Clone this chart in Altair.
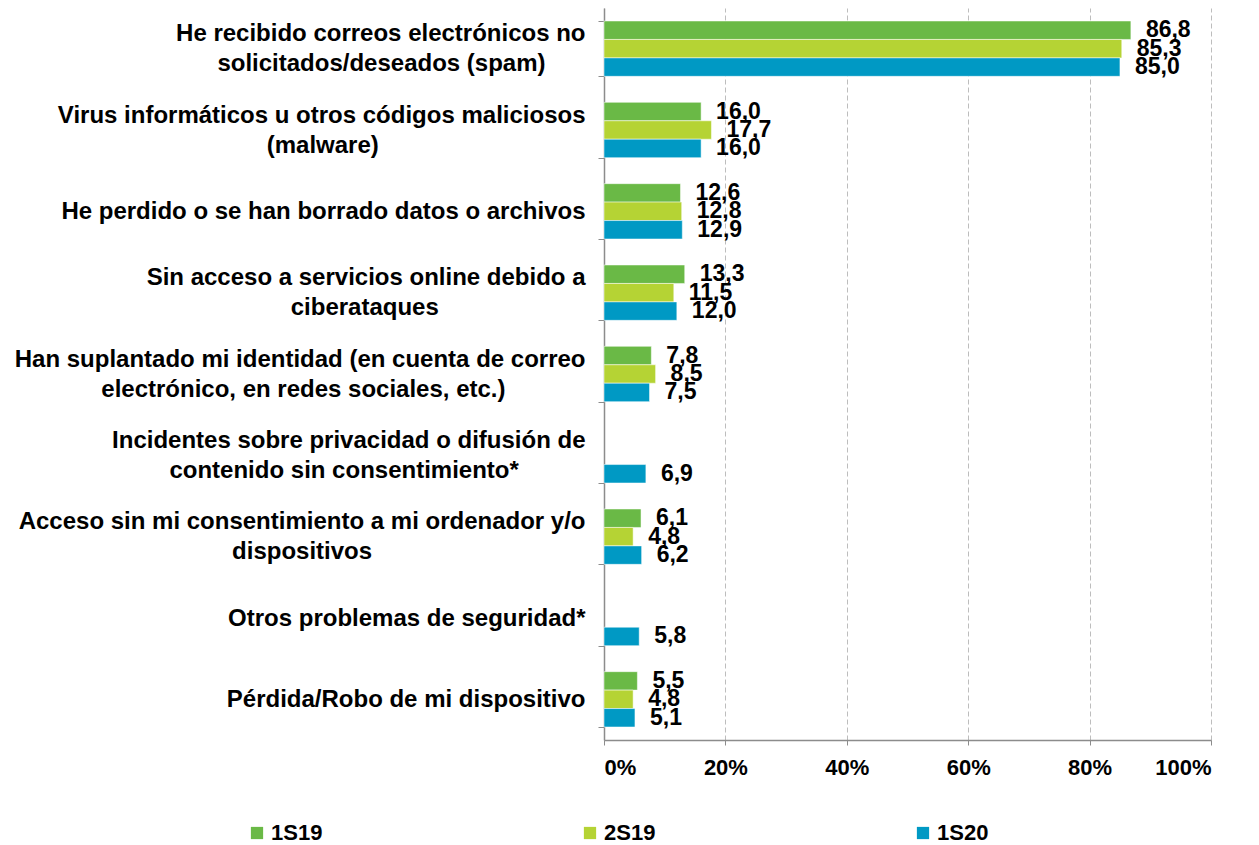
import altair as alt
import pandas as pd

categories = [
    "He recibido correos electrónicos no|solicitados/deseados (spam)",
    "Virus informáticos u otros códigos maliciosos|(malware)",
    "He perdido o se han borrado datos o archivos",
    "Sin acceso a servicios online debido a|ciberataques",
    "Han suplantado mi identidad (en cuenta de correo|electrónico, en redes sociales, etc.)",
    "Incidentes sobre privacidad o difusión de|contenido sin consentimiento*",
    "Acceso sin mi consentimiento a mi ordenador y/o|dispositivos",
    "Otros problemas de seguridad*",
    "Pérdida/Robo de mi dispositivo",
]
series = ["1S19", "2S19", "1S20"]
v_1s19 = [86.8, 16.0, 12.6, 13.3, 7.8, None, 6.1, None, 5.5]
v_2s19 = [85.3, 17.7, 12.8, 11.5, 8.5, None, 4.8, None, 4.8]
v_1s20 = [85.0, 16.0, 12.9, 12.0, 7.5, 6.9, 6.2, 5.8, 5.1]
colors = ["#6AB946", "#B5D334", "#0099C4"]
x_ticks = [0, 20, 40, 60, 80, 100]

# Approximate Arial/Liberation Sans Bold advance widths (1/1000 em), used only
# to centre the second line of a two-line category label under the first.
_W = {" ": 278, "(": 333, ")": 333, "*": 389, ",": 278, ".": 278, "/": 278,
      "a": 556, "b": 611, "c": 556, "d": 611, "e": 556, "f": 333, "g": 611,
      "h": 611, "i": 278, "j": 278, "k": 556, "l": 278, "m": 889, "n": 611,
      "o": 611, "p": 611, "q": 611, "r": 389, "s": 556, "t": 333, "u": 611,
      "v": 556, "w": 778, "x": 556, "y": 556, "z": 500, "á": 556, "é": 556,
      "í": 278, "ó": 611, "ú": 611, "ñ": 611}


def _width(s):
    return sum(_W.get(ch, 722) for ch in s)


def display_label(cat):
    parts = cat.split("|")
    if len(parts) == 2:
        gap = (_width(parts[0]) - _width(parts[1])) / 2
        n = max(0, round(gap / 278))
        # trailing no-break spaces, closed by a zero-width space so they
        # survive trimming, keep the second line centred under the first
        parts[1] = parts[1] + "\u00a0" * n + "\u200b"
    return "|".join(parts)


disp = [display_label(c) for c in categories]

rows = []
for s, vals in zip(series, [v_1s19, v_2s19, v_1s20]):
    for c, v in zip(disp, vals):
        if v is None:
            continue
        rows.append({"cat": c, "serie": s, "value": v,
                     "label": f"{v:.1f}".replace(".", ",")})
df = pd.DataFrame(rows)

FONT = "Liberation Sans"

y = alt.Y(
    "cat:N", sort=disp,
    scale=alt.Scale(domain=disp, paddingInner=0.32, paddingOuter=0.16),
    axis=alt.Axis(
        title=None, labelExpr="split(datum.label, '|')",
        labelFont=FONT, labelFontWeight="bold", labelFontSize=24,
        labelColor="black", labelLineHeight=30, labelPadding=13,
        labelBaseline=alt.condition("indexof(datum.label, '|') >= 0",
                                    alt.value("line-bottom"),
                                    alt.value("middle")),
        tickBand="extent", tickSize=6, tickColor="#8c8c8c",
        domainColor="#8c8c8c", domainWidth=1.5, labelLimit=900, grid=False,
    ),
)
yoff = alt.YOffset("serie:N", sort=series, scale=alt.Scale(domain=series))
x = alt.X(
    "value:Q", scale=alt.Scale(domain=[0, 100]),
    axis=alt.Axis(
        title=None, values=x_ticks, labelExpr="datum.value + '%'",
        labelFont=FONT, labelFontWeight="bold", labelFontSize=22,
        labelColor="black", labelPadding=12, tickSize=5,
        tickColor="#8c8c8c", domainColor="#8c8c8c", domainWidth=1.5,
        grid=True, gridDash=[5, 3], gridColor="#bdbdbd", gridWidth=1,
    ),
)

color = alt.Color(
    "serie:N", sort=series,
    scale=alt.Scale(domain=series, range=colors),
    legend=alt.Legend(
        title=None, orient="none", legendX=-358, legendY=814,
        direction="horizontal", symbolType="square", symbolSize=150,
        symbolStrokeWidth=0, labelFont=FONT, labelFontWeight="bold",
        labelFontSize=22, labelColor="black", columnPadding=256,
        labelOffset=3,
    ),
)

base = alt.Chart(df)
bars = base.mark_bar(stroke="white", strokeWidth=0.5).encode(
    x=x, y=y, yOffset=yoff, color=color
)
text = base.mark_text(
    align="left", baseline="middle", dx=15, font=FONT,
    fontWeight="bold", fontSize=23, color="black",
).encode(x="value:Q", y=alt.Y("cat:N", sort=disp), yOffset=yoff,
         text="label:N")

chart = (
    alt.layer(bars, text)
    .properties(width=607, height=732,
                autosize=alt.AutoSizeParams(type="none"),
                padding={"left": 596, "top": 0, "right": 40, "bottom": 104})
    .configure_view(stroke=None)
)
chart.save("out.html", embed_options={"renderer": "svg", "actions": False})
